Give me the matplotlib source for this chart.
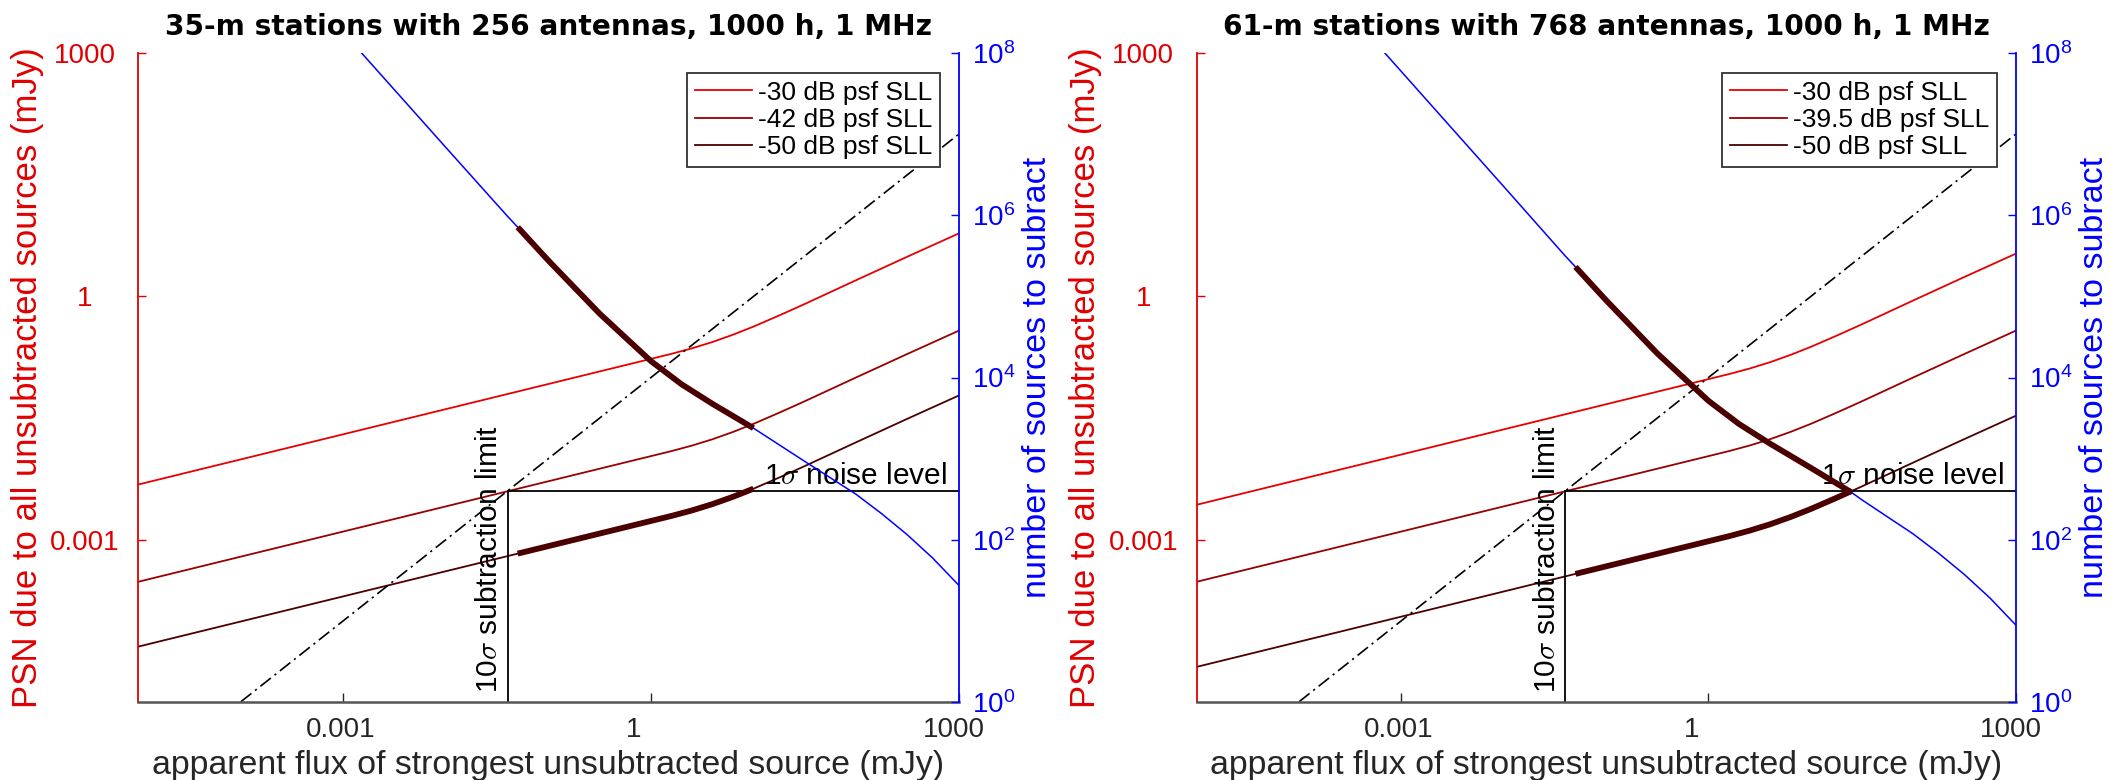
import numpy as np
import matplotlib
matplotlib.use("Agg")
import matplotlib.pyplot as plt
from matplotlib.ticker import NullLocator
from matplotlib.transforms import ScaledTranslation

plt.rcParams['font.family'] = ['Liberation Sans', 'DejaVu Sans']
plt.rcParams['mathtext.fontset'] = 'cm'

# ---------------- data (log10 values) ----------------
titles = ["35-m stations with 256 antennas, 1000 h, 1 MHz",
          "61-m stations with 768 antennas, 1000 h, 1 MHz"]
legend_labels_left = ["-30 dB psf SLL", "-42 dB psf SLL", "-50 dB psf SLL"]
legend_labels_right = ["-30 dB psf SLL", "-39.5 dB psf SLL", "-50 dB psf SLL"]

# log10 of apparent flux (mJy) at which PSN curves are read
psn_logflux = [-5, -4, -3, -2, -1.4, -1.3, -1.0, -0.5, 0.0, 0.2, 0.4, 0.6, 0.8, 1.0,
               1.25, 1.4, 1.5, 2.0, 2.5, 3.0]
# log10 PSN (mJy), left panel
psn30_left = [-2.32, -2.01, -1.70, -1.39, -1.204, -1.173, -1.08, -0.925, -0.77, -0.708,
              -0.640, -0.562, -0.472, -0.372, -0.235, -0.150, -0.093, 0.200, 0.490, 0.776]
psn42_left = [-3.52, -3.21, -2.90, -2.59, -2.404, -2.373, -2.28, -2.125, -1.97, -1.908,
              -1.840, -1.762, -1.672, -1.572, -1.435, -1.350, -1.293, -1.000, -0.710, -0.424]
psn50_left = [-4.32, -4.01, -3.70, -3.39, -3.204, -3.173, -3.08, -2.925, -2.77, -2.708,
              -2.640, -2.562, -2.472, -2.372, -2.235, -2.150, -2.093, -1.800, -1.510, -1.224]
# log10 PSN (mJy), right panel
psn30_right = [-2.57, -2.26, -1.95, -1.64, -1.454, -1.423, -1.33, -1.175, -1.02, -0.958,
               -0.890, -0.812, -0.722, -0.622, -0.485, -0.400, -0.343, -0.050, 0.240, 0.526]
psn395_right = [-3.52, -3.21, -2.90, -2.59, -2.404, -2.373, -2.28, -2.125, -1.97, -1.908,
                -1.840, -1.762, -1.672, -1.572, -1.435, -1.350, -1.293, -1.000, -0.710, -0.424]
psn50_right = [-4.57, -4.26, -3.95, -3.64, -3.454, -3.423, -3.33, -3.175, -3.02, -2.958,
               -2.890, -2.812, -2.722, -2.622, -2.485, -2.400, -2.343, -2.050, -1.760, -1.474]

# log10 number of sources to subtract
n_logflux_left = [-2.82, -2.0, -1.4, -1.3, -1.0, -0.5, 0.0, 0.3, 0.6, 1.0, 1.5, 2.0,
                  2.25, 2.5, 2.75, 3.0]
nsrc_left = [8.0, 6.837, 5.99, 5.855, 5.442, 4.787, 4.202, 3.915, 3.675, 3.375, 2.965,
             2.56, 2.32, 2.06, 1.77, 1.44]
n_logflux_right = [-3.16, -2.0, -1.4, -1.3, -1.0, -0.5, 0.0, 0.3, 0.6, 1.0, 1.4, 1.5,
                   2.0, 2.25, 2.5, 2.75, 3.0]
nsrc_right = [8.0, 6.355, 5.50, 5.365, 4.952, 4.297, 3.712, 3.425, 3.185, 2.885, 2.58,
              2.49, 2.07, 1.83, 1.57, 1.28, 0.95]

noise_level = 0.004           # mJy, 1 sigma
subtraction_limit = 0.04      # mJy, 10 sigma
cap_logflux = -1.3            # end of the short -42/-39.5 dB highlighted bit
cross_logflux = [1.0, 1.4]    # where the -50 dB curve meets the noise level

dash_flux = [1e-4, 1e3]       # PSN = flux / 10
dash_psn = [1e-5, 1e2]

x_ticks = [1e-3, 1, 1e3]
x_ticklabels = ["0.001", "1", "1000"]
y_ticks = [1e-3, 1, 1e3]
y_ticklabels = ["0.001", "1", "1000"]
n_ticks = [1e0, 1e2, 1e4, 1e6, 1e8]
n_ticklabels = [r"$\mathdefault{10^{0}}$", r"$\mathdefault{10^{2}}$", r"$\mathdefault{10^{4}}$",
                r"$\mathdefault{10^{6}}$", r"$\mathdefault{10^{8}}$"]

# ---------------- styling ----------------
RED = '#e00000'
C30, C42, C50 = '#e60000', '#990000', '#4a0000'
BLUE = '#0000ff'
DARK = '#262626'
W, H = 2111, 780
xlabel_shift_px = [-3, -17, -5]   # horizontal nudges of the x tick labels

fig = plt.figure(figsize=(W / 100, H / 100), dpi=100)
bottom = 1 - 701.7 / H
height = 648.4 / H
axes_pos = [[138.4 / W, bottom, 820.1 / W, height],
            [1196.8 / W, bottom, 818.7 / W, height]]

panels = [
    dict(title=titles[0], labels=legend_labels_left,
         curves=[psn30_left, psn42_left, psn50_left], nlf=n_logflux_left, n=nsrc_left,
         cross=cross_logflux[0]),
    dict(title=titles[1], labels=legend_labels_right,
         curves=[psn30_right, psn395_right, psn50_right], nlf=n_logflux_right, n=nsrc_right,
         cross=cross_logflux[1]),
]

lim_log = np.log10(subtraction_limit)
lf = np.array(psn_logflux)
for pos, p in zip(axes_pos, panels):
    ax = fig.add_axes(pos)
    axr = ax.twinx()
    ax.set_xscale('log'); ax.set_yscale('log'); axr.set_yscale('log')
    ax.set_xlim(1e-5, 1e3)
    ax.set_ylim(1e-5, 1e3)
    axr.set_ylim(1e0, 1e8)

    handles = []
    for vals, col, lab in zip(p['curves'], [C30, C42, C50], p['labels']):
        h, = ax.plot(10 ** lf, 10 ** np.array(vals), color=col, lw=1.3, label=lab)
        handles.append(h)

    # highlighted thick segments
    m50 = (lf >= lim_log - 1e-9) & (lf <= p['cross'] + 1e-9)
    ax.plot(10 ** lf[m50], 10 ** np.array(p['curves'][2])[m50], color=C50, lw=4.2,
            solid_capstyle='butt', zorder=3)
    m42 = (lf >= lim_log - 1e-9) & (lf <= cap_logflux + 1e-9)
    ax.plot(10 ** lf[m42], 10 ** np.array(p['curves'][1])[m42], color=C42, lw=4.2,
            solid_capstyle='butt', zorder=3)

    # 10 sigma line
    ax.plot(dash_flux, dash_psn, color='black', lw=1.2, ls=(0, (8, 2.8, 1.3, 2.8)))

    # noise level and subtraction limit
    ax.plot([subtraction_limit, 1e3], [noise_level, noise_level], color='black', lw=1.3)
    ax.plot([subtraction_limit, subtraction_limit], [1e-5, noise_level], color='black', lw=1.3)

    ax.text(774, 0.0049, r'1$\sigma$ noise level', ha='right', va='baseline',
            fontsize=21.5, color='black')
    ax.text(0.036, 10 ** -4.89, r'10$\sigma$ subtraction limit', ha='right', va='bottom',
            rotation=90, fontsize=21.5, color='black')

    # number of sources
    nlf = np.array(p['nlf'])
    nv = np.array(p['n'])
    axr.plot(10 ** nlf, 10 ** nv, color=BLUE, lw=1.1)
    mn50 = (nlf >= lim_log - 1e-9) & (nlf <= p['cross'] + 1e-9)
    axr.plot(10 ** nlf[mn50], 10 ** nv[mn50], color=C50, lw=4.2, solid_capstyle='butt')
    mn42 = (nlf >= lim_log - 1e-9) & (nlf <= cap_logflux + 1e-9)
    axr.plot(10 ** nlf[mn42], 10 ** nv[mn42], color=C42, lw=4.2, solid_capstyle='butt')

    # ticks
    ax.set_xticks(x_ticks, labels=x_ticklabels)
    ax.xaxis.set_minor_locator(NullLocator())
    ax.set_yticks(y_ticks, labels=y_ticklabels, ha='center')
    ax.yaxis.set_minor_locator(NullLocator())
    axr.set_yticks(n_ticks, labels=n_ticklabels)
    axr.yaxis.set_minor_locator(NullLocator())

    ax.tick_params(axis='x', direction='in', length=6.5, width=1.0, colors=DARK,
                   labelsize=20, pad=11)
    ax.tick_params(axis='y', direction='in', length=6, width=1.0, colors=RED,
                   labelsize=20, pad=38.5)
    axr.tick_params(axis='y', direction='in', length=6, width=1.0, colors=BLUE,
                    labelsize=20, pad=9.5)
    for lbl, dx in zip(ax.get_xticklabels(), xlabel_shift_px):
        lbl.set_transform(lbl.get_transform() +
                          ScaledTranslation(dx / 100, 0, fig.dpi_scale_trans))

    for s in ['top', 'right']:
        ax.spines[s].set_visible(False)
    ax.spines['left'].set_color(RED)
    ax.spines['left'].set_linewidth(1.3)
    ax.spines['bottom'].set_color('#555555')
    ax.spines['bottom'].set_linewidth(1.8)
    for s in ['top', 'left', 'bottom']:
        axr.spines[s].set_visible(False)
    axr.spines['right'].set_color(BLUE)
    axr.spines['right'].set_linewidth(1.3)

    ax.set_xlabel('apparent flux of strongest unsubtracted source (mJy)', fontsize=24.4,
                  color=DARK, labelpad=5)
    ax.set_ylabel('PSN due to all unsubtracted sources (mJy)', fontsize=25, color=RED)
    ax.yaxis.set_label_coords(-0.1155, 0.5)
    axr.set_ylabel('number of sources to subract', fontsize=24.5, color=BLUE)
    axr.yaxis.set_label_coords(1.077, 0.5)

    ax.set_title(p['title'], fontsize=20.2, fontweight='bold', pad=13,
                 family=['DejaVu Sans'])

    leg = ax.legend(handles=handles, loc='upper right', bbox_to_anchor=(0.978, 0.970),
                    borderaxespad=0, fontsize=19, fancybox=False, framealpha=1,
                    edgecolor='#333333', handlelength=2.15, handletextpad=0.25,
                    labelspacing=0.12, borderpad=0.3)
    leg.get_frame().set_linewidth(1.3)
    leg.set_zorder(10)

fig.savefig('out.png', dpi=100)
